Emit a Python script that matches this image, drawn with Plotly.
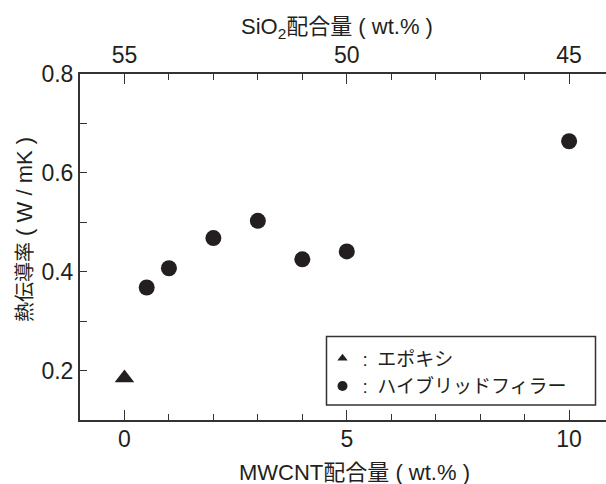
import plotly.graph_objects as go

# ---- data ----
mwcnt_epoxy = [0]
k_epoxy = [0.185]
mwcnt_hybrid = [0.5, 1, 2, 3, 4, 5, 10]
k_hybrid = [0.368, 0.407, 0.468, 0.503, 0.425, 0.441, 0.664]
sio2_base = 55            # SiO2 wt.% = 55 - MWCNT wt.%
bottom_ticks = [0, 5, 10]
top_ticks = [55, 50, 45]
y_ticks = [0.2, 0.4, 0.6, 0.8]
legend_labels = [":\u2002エポキシ", ":\u2002ハイブリッドフィラー"]

# ---- layout geometry ----
W, H = 606, 484
L, R, T, B = 80, 0, 74, 64
PW, PH = W - L - R, H - T - B


def px(xp):
    return (xp - L) / PW


def py(yp):
    return (H - B - yp) / PH


FONT = "Liberation Sans, Arial, Noto Sans CJK JP, sans-serif"
INK = "#231f20"
AX = "#333333"

x_range = [-1.0, 10.83]

fig = go.Figure()

fig.add_trace(go.Scatter(
    x=mwcnt_epoxy, y=k_epoxy, mode="markers", showlegend=False,
    marker=dict(symbol="triangle-up", size=17, color=INK),
))
fig.add_trace(go.Scatter(
    x=mwcnt_hybrid, y=k_hybrid, mode="markers", showlegend=False,
    marker=dict(symbol="circle", size=16, color=INK),
))
# invisible trace for the top (SiO2) axis
fig.add_trace(go.Scatter(
    x=[sio2_base - v for v in mwcnt_hybrid], y=k_hybrid, xaxis="x2",
    mode="markers", marker=dict(opacity=0), showlegend=False, hoverinfo="skip",
))
# legend entries
fig.add_trace(go.Scatter(
    x=[None], y=[None], mode="markers", name=legend_labels[0], legendgroup="a",
    marker=dict(symbol="triangle-up", size=9, color=INK),
))
fig.add_trace(go.Scatter(
    x=[None], y=[None], mode="markers", name=legend_labels[1], legendgroup="b",
    marker=dict(symbol="circle", size=10, color=INK),
))

axis_common = dict(
    showline=True, linecolor=AX, linewidth=2, showgrid=False, zeroline=False,
    ticks="inside", tickcolor=AX, tickwidth=1.3,
    tickfont=dict(family=FONT, size=23, color=INK),
)

fig.update_layout(
    width=W, height=H,
    margin=dict(l=L, r=R, t=T, b=B),
    paper_bgcolor="white", plot_bgcolor="white",
    font=dict(family=FONT, color=INK),
    xaxis=dict(
        range=x_range, tickvals=bottom_ticks, ticklen=10, ticklabelstandoff=-3,
        minor=dict(dtick=1, tick0=0, ticks="inside", ticklen=6, tickcolor=AX, tickwidth=1.3),
        **axis_common,
    ),
    xaxis2=dict(
        overlaying="x", side="top", anchor="y",
        range=[sio2_base - x_range[0], sio2_base - x_range[1]],
        tickvals=top_ticks, ticklen=10,
        minor=dict(dtick=1, tick0=0, ticks="inside", ticklen=6, tickcolor=AX, tickwidth=1.3),
        **axis_common,
    ),
    yaxis=dict(
        range=[0.1, 0.8], tickvals=y_ticks, ticklen=7, tickformat=".1f",
        minor=dict(dtick=0.1, tick0=0, ticks="inside", ticklen=7, tickcolor=AX, tickwidth=1.3),
        **axis_common,
    ),
    legend=dict(
        x=px(322.5), y=py(339.5), xanchor="left", yanchor="top",
        bgcolor="rgba(0,0,0,0)", borderwidth=0,
        font=dict(family=FONT, size=19, color=INK),
        tracegroupgap=4, traceorder="normal", itemsizing="trace",
    ),
    shapes=[dict(
        type="rect", xref="paper", yref="paper",
        x0=px(326.5), x1=px(595.5), y0=py(405), y1=py(336.5),
        line=dict(color=AX, width=1.5), fillcolor="rgba(0,0,0,0)", layer="above",
    )],
    annotations=[
        dict(text="MWCNT配合量 ( wt.% )", x=px(354), y=py(472), xref="paper", yref="paper",
             xanchor="center", yanchor="middle", showarrow=False,
             font=dict(family=FONT, size=22, color=INK)),
        dict(text="SiO<sub>2</sub>配合量 ( wt.% )", x=px(337), y=py(28), xref="paper", yref="paper",
             xanchor="center", yanchor="middle", showarrow=False,
             font=dict(family=FONT, size=22, color=INK)),
        dict(text="熱伝導率<span style='font-size:22px'> ( W / mK )</span>",
             x=px(24), y=py(230), xref="paper", yref="paper",
             xanchor="center", yanchor="middle", showarrow=False, textangle=-90,
             font=dict(family=FONT, size=20, color=INK)),
    ],
)

fig.write_html(
    "out.html",
    config={"displayModeBar": False},
    post_script="document.body.style.margin='0';",
)
